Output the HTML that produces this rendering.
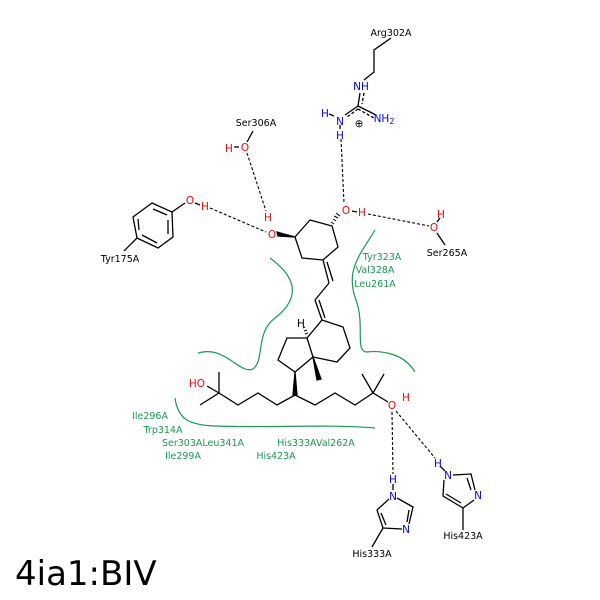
<!DOCTYPE html>
<html><head><style>body{margin:0;background:#fff}svg{display:block}</style></head><body>
<svg width="600" height="600" viewBox="0 0 600 600" xmlns="http://www.w3.org/2000/svg" font-family="DejaVu Sans, Liberation Sans, sans-serif">
<g stroke="#000" stroke-width="1.3" fill="none">
<polyline points="391,38 374,50 374,72 364,80"/>
<line x1="360" y1="93" x2="358" y2="106"/><line x1="364" y1="93" x2="362" y2="104" stroke-dasharray="3,2"/>
<line x1="358" y1="106" x2="345" y2="115"/><line x1="358" y1="109" x2="347" y2="117" stroke-dasharray="3,2"/>
<line x1="358" y1="106" x2="376" y2="115"/><line x1="358" y1="109" x2="374" y2="118" stroke-dasharray="3,2"/>
<line x1="329" y1="114" x2="334" y2="116"/><line x1="340" y1="125" x2="340" y2="129"/>
<line x1="253" y1="131" x2="247" y2="142"/><line x1="234" y1="147" x2="239" y2="147"/>
<polygon points="152,203 172,212 173,237 158,248 137,238 133,217"/>
<polyline points="153,209 167,215" /><line x1="168" y1="220" x2="168" y2="234"/><line x1="157" y1="243" x2="142" y2="235"/><line x1="139" y1="230" x2="138" y2="219"/>
<line x1="172" y1="212" x2="185" y2="203"/><line x1="195" y1="203" x2="200" y2="205"/>
<line x1="137" y1="238" x2="124" y2="251"/>
<polygon points="295,237 310,220 332,226 338,247 323,260 302,258"/>
<polygon points="295,237 277,232 278,236" fill="#000"/>
<g stroke-width="1"><line x1="334" y1="224" x2="331" y2="222"/><line x1="336" y1="221" x2="333" y2="219"/><line x1="338" y1="218" x2="334" y2="216"/><line x1="340" y1="216" x2="336" y2="213"/></g>
<line x1="352" y1="211" x2="357" y2="212"/>
<line x1="440" y1="218" x2="437" y2="222"/><line x1="437" y1="233" x2="445" y2="245"/>
<line x1="323" y1="260" x2="329" y2="283"/><line x1="327" y1="262" x2="333" y2="281"/>
<line x1="329" y1="283" x2="315" y2="300"/>
<line x1="315" y1="300" x2="322" y2="320"/><line x1="319" y1="300" x2="325" y2="318"/>
<polygon points="322,320 343,327 350,348 337,362 313,357 307,338"/>
<polyline points="307,338 287,338 278,360 295,372 313,357"/>
<g stroke-width="1"><line x1="305" y1="334" x2="308" y2="333"/><line x1="304" y1="331" x2="307" y2="330"/><line x1="303" y1="328" x2="305" y2="327"/></g>
<polygon points="313,357 317,380 321,379" fill="#000"/>
<polygon points="295,372 293,395 297,395" fill="#000"/>
<polyline points="200,405 219,393 238,405 258,393 277,405 295,395 315,405 335,393 355,405 373,393 388,402"/>
<line x1="219" y1="393" x2="219" y2="372"/><line x1="219" y1="393" x2="207" y2="386"/>
<line x1="373" y1="393" x2="362" y2="374"/><line x1="373" y1="393" x2="384" y2="374"/>
<polyline points="397,498 413,507 409,524"/><polyline points="402,529 383,528 377,510 389,499"/>
<line x1="409" y1="510" x2="407" y2="522"/><line x1="381" y1="513" x2="386" y2="525"/>
<line x1="393" y1="484" x2="393" y2="490"/>
<line x1="383" y1="528" x2="372" y2="547"/>
<polyline points="453,475 471,474 475,490"/><polyline points="474,500 463,508 443,496 444,480"/>
<line x1="467" y1="478" x2="471" y2="490"/><line x1="461" y1="503" x2="446" y2="494"/>
<line x1="440" y1="466" x2="445" y2="471"/>
<line x1="463" y1="508" x2="463" y2="530"/>
</g>
<g stroke="#000" stroke-width="1.1" fill="none" stroke-dasharray="3,2">
<line x1="210" y1="208" x2="266" y2="232"/>
<line x1="247" y1="153" x2="266" y2="211"/>
<line x1="341" y1="139" x2="344" y2="203"/>
<line x1="368" y1="214" x2="429" y2="226"/>
<line x1="392" y1="412" x2="393" y2="474"/>
<line x1="396" y1="411" x2="435" y2="458"/>
</g>
<g stroke="#1a9950" stroke-width="1.2" fill="none">
<path d="M270,258 C300,280 298,300 275,318 C255,333 265,360 253,369 C240,375 225,345 198,353"/>
<path d="M375,230 C360,255 345,270 356,300 C365,325 355,350 366,352 C385,350 405,355 415,372"/>
<path d="M175,398 C178,420 190,425 215,426 C270,428 330,424 375,428"/>
</g>
<g font-size="9.5" text-anchor="middle">
<text x="391" y="36" fill="#000">Arg302A</text>
<text x="256" y="126" fill="#000">Ser306A</text>
<text x="120" y="262" fill="#000">Tyr175A</text>
<text x="447" y="256" fill="#000">Ser265A</text>
<text x="372" y="557" fill="#000">His333A</text>
<text x="463" y="539" fill="#000">His423A</text>
<g font-size="10.5">
<text x="361" y="90" fill="#00f">NH</text>
<text x="325" y="117" fill="#00f">H</text>
<text x="340" y="125" fill="#00f">N</text>
<text x="340" y="139" fill="#00f">H</text>
<text x="384" y="122" fill="#00f">NH<tspan font-size="8" dy="2">2</tspan></text>
<text x="359" y="127" fill="#000">⊕</text>
<text x="229" y="152" fill="#f00">H</text>
<text x="245" y="151" fill="#f00">O</text>
<text x="190" y="204" fill="#f00">O</text>
<text x="205" y="210" fill="#f00">H</text>
<text x="268" y="221" fill="#f00">H</text>
<text x="272" y="238" fill="#f00">O</text>
<text x="346" y="214" fill="#f00">O</text>
<text x="362" y="216" fill="#f00">H</text>
<text x="441" y="218" fill="#f00">H</text>
<text x="434" y="231" fill="#f00">O</text>
<text x="197" y="387" fill="#f00">HO</text>
<text x="301" y="327" fill="#000">H</text>
<text x="392" y="409" fill="#f00">O</text>
<text x="406" y="401" fill="#f00">H</text>
<text x="393" y="483" fill="#00f">H</text>
<text x="393" y="500" fill="#00f">N</text>
<text x="406" y="533" fill="#00f">N</text>
<text x="438" y="467" fill="#00f">H</text>
<text x="448" y="479" fill="#00f">N</text>
<text x="478" y="499" fill="#00f">N</text>
</g>
<g fill="#1a9950">
<text x="382" y="260">Tyr323A</text>
<text x="375" y="273">Val328A</text>
<text x="375" y="287">Leu261A</text>
<text x="150" y="419">Ile296A</text>
<text x="163" y="433">Trp314A</text>
<text x="203" y="446">Ser303ALeu341A</text>
<text x="183" y="459">Ile299A</text>
<text x="316" y="446">His333AVal262A</text>
<text x="276" y="459">His423A</text>
</g>
</g>
<text x="15" y="585" font-size="34" fill="#000">4ia1:BIV</text>
</svg>
</body></html>
